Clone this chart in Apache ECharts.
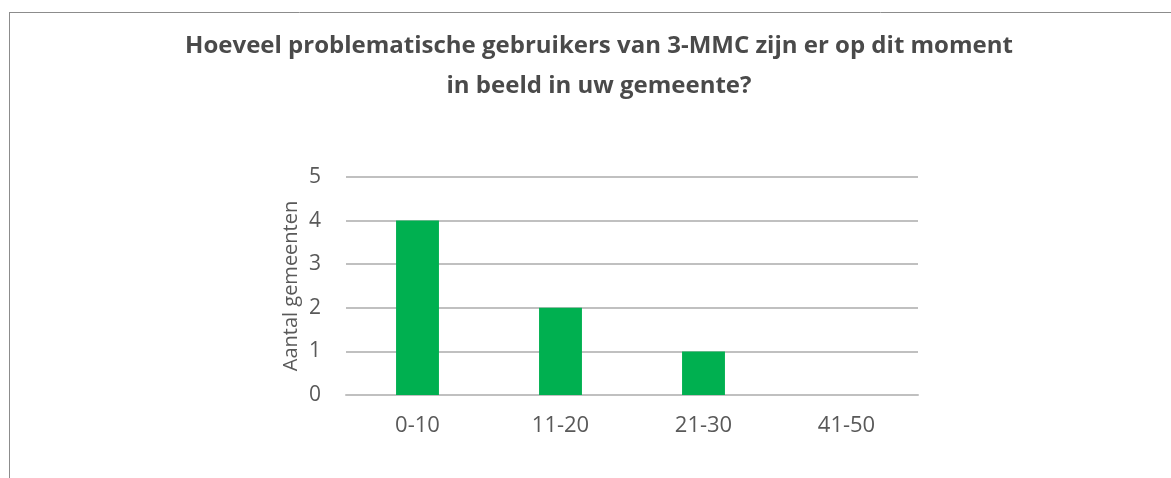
<!DOCTYPE html>
<html><head><meta charset="utf-8">
<script src="https://cdn.jsdelivr.net/npm/echarts@6/dist/echarts.min.js"></script>
<style>html,body{margin:0;padding:0;background:#fff}#c{width:1171px;height:478px}</style>
</head><body><div id="c"></div>
<script>
const categories = ['0-10', '11-20', '21-30', '41-50'];
const values = [4, 2, 1, 0];
const yTicks = [0, 1, 2, 3, 4, 5];
const titleText = 'Hoeveel problematische gebruikers van 3-MMC zijn er op dit moment\nin beeld in uw gemeente?';
const yName = 'Aantal gemeenten';

const chart = echarts.init(document.getElementById('c'));
chart.setOption({
  animation: false,
  backgroundColor: '#ffffff',
  title: {
    text: titleText,
    left: 594, top: 21, textAlign: 'center',
    textStyle: { fontFamily: 'Open Sans', fontWeight: 'bold', fontSize: 24, color: '#4a4a4a', lineHeight: 40 }
  },
  graphic: [
    { type: 'line', shape: { x1: 9, y1: 12.5, x2: 1171, y2: 12.5 }, style: { stroke: '#8c8c8c', lineWidth: 1 } },
    { type: 'line', shape: { x1: 9.5, y1: 12, x2: 9.5, y2: 478 }, style: { stroke: '#8c8c8c', lineWidth: 1 } }
  ],
  grid: { left: 346, right: 253, top: 177, bottom: 83 },
  xAxis: {
    type: 'category', data: categories,
    axisLine: { lineStyle: { color: '#c0c0c0', width: 2 } },
    axisTick: { show: false },
    axisLabel: { fontFamily: 'Open Sans', fontSize: 22, color: '#595959', margin: 20 }
  },
  yAxis: {
    type: 'value', min: yTicks[0], max: yTicks[yTicks.length - 1], interval: 1,
    name: yName, nameLocation: 'middle', nameGap: 45, nameRotate: 90,
    nameTextStyle: { fontFamily: 'Open Sans', fontSize: 20, color: '#595959' },
    axisLine: { show: false }, axisTick: { show: false },
    axisLabel: { fontFamily: 'Open Sans', fontSize: 21, color: '#595959', margin: 25 },
    splitLine: { lineStyle: { color: '#c0c0c0', width: 2 } }
  },
  series: [{
    type: 'bar', data: values, barWidth: '30%',
    itemStyle: { color: '#00b050' }
  }]
});
</script></body></html>
